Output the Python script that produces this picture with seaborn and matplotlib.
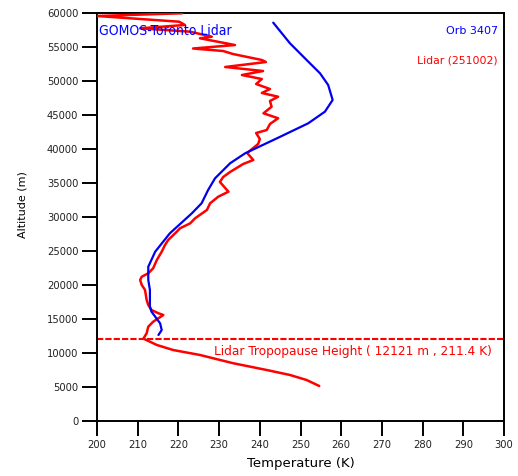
import matplotlib
matplotlib.use("Agg")
import matplotlib.pyplot as plt
import seaborn as sns
import pandas as pd

# ---- data ----
lidar_temp = [254.6, 251.5, 247.4, 241.7, 233.5, 225.3, 218.7, 214.7, 211.4,
              212.2, 212.6, 213.8, 216.3, 215.1, 213.4, 212.6, 212.2, 211.8,
              211.0, 210.6, 211.0, 212.6, 213.8, 214.7, 215.9, 216.7, 217.5,
              219.6, 220.4, 222.9, 224.1, 227.0, 227.8, 229.8, 232.3, 230.2,
              231.0, 232.7, 235.9, 238.4, 236.9, 239.6, 240.0, 239.1, 241.7,
              242.5, 244.5, 240.9, 242.9, 242.5, 244.5, 240.5, 242.5, 239.1,
              240.5, 235.6, 240.8, 231.5, 241.5, 240.5, 233.4, 231.0, 223.6,
              233.9, 225.3, 228.2, 222.9, 210.6, 221.6, 220.2, 200.0, 220.9]
lidar_alt = [5150, 6030, 6770, 7500, 8490, 9710, 10440, 11180, 12121,
             12900, 13870, 14600, 15590, 15840, 16320, 17060, 17790, 19270,
             20000, 20740, 21220, 21720, 22460, 23680, 24900, 25880, 26620,
             27840, 28340, 29070, 29810, 31030, 32020, 32990, 33720, 35150,
             35880, 36620, 37790, 38380, 39410, 40740, 41470, 42350, 42790,
             43680, 44520, 45250, 46220, 47060, 47690, 48240, 48820, 49560,
             50290, 50880, 51470, 52060, 52790, 53090, 53970, 54410, 54780,
             55290, 56280, 56520, 57250, 57750, 58240, 58720, 59560, 59960]

gomos_temp = [215.1, 215.9, 215.5, 213.4, 213.0, 213.0, 212.6, 212.6, 214.3,
              217.9, 223.3, 225.7, 227.3, 229.0, 232.7, 236.4, 244.2, 251.9,
              256.0, 257.9, 256.8, 254.8, 251.5, 247.4, 243.3]
gomos_alt = [12650, 13380, 14370, 16070, 16810, 19270, 20740, 22690, 24900,
             27600, 30540, 32020, 33970, 35690, 37900, 39370, 41570, 43780,
             45490, 47210, 49410, 51130, 53090, 55550, 58580]

tropo_alt = 12121
x_ticks = list(range(200, 301, 10))
y_ticks = list(range(0, 60001, 5000))

# ---- styling ----
sns.set_style("ticks")
plt.rcParams['font.family'] = ['DejaVu Sans']

fig = plt.figure(figsize=(5.18, 4.76), dpi=100)
ax = fig.add_axes([97/518, 1 - 421/476, 407/518, 408/476])

lidar_df = pd.DataFrame({"T": lidar_temp, "Alt": lidar_alt})
gomos_df = pd.DataFrame({"T": gomos_temp, "Alt": gomos_alt})

sns.lineplot(data=lidar_df, x="T", y="Alt", sort=False, estimator=None,
             color="#ff0000", linewidth=1.8, ax=ax, zorder=3)
sns.lineplot(data=gomos_df, x="T", y="Alt", sort=False, estimator=None,
             color="#0000ee", linewidth=1.6, ax=ax, zorder=4)
ax.axhline(tropo_alt, color="#ff0000", linewidth=1.5, dashes=(3, 1), zorder=2)

ax.set_xlim(200, 300)
ax.set_ylim(0, 60000)
ax.set_xticks(x_ticks)
ax.set_yticks(y_ticks)
ax.set_xticklabels([str(v) for v in x_ticks], fontsize=7.2)
ax.set_yticklabels([str(v) for v in y_ticks], fontsize=7.2)
ax.tick_params(axis="both", direction="out", length=10.5, width=1.4,
               color="black", pad=3, labelcolor="#222222")
for s in ax.spines.values():
    s.set_visible(True)
    s.set_linewidth(1.4)
    s.set_color("black")

ax.set_xlabel("Temperature (K)", fontsize=9.5, color="black")
ax.set_ylabel("Altitude (m)", fontsize=8, color="black")
ax.xaxis.set_label_coords(0.5, -0.088)
ax.yaxis.set_label_coords(-0.17, 0.53)

ax.text(0.006, 0.955, "GOMOS-Toronto Lidar", transform=ax.transAxes,
        color="#0000ff", fontsize=10, fontstretch="condensed",
        va="center", ha="left")
ax.text(0.985, 0.957, "Orb 3407", transform=ax.transAxes,
        color="#0000ff", fontsize=8, ha="right", va="center")
ax.text(0.985, 0.883, "Lidar (251002)", transform=ax.transAxes,
        color="#ff0000", fontsize=7.8, ha="right", va="center")
ax.text(0.97, 10250, "Lidar Tropopause Height ( 12121 m , 211.4 K)",
        transform=ax.get_yaxis_transform(), color="#ff0000", fontsize=9.7,
        fontstretch="condensed", ha="right", va="center")

ax.grid(False)
fig.savefig("out.png", dpi=100)
